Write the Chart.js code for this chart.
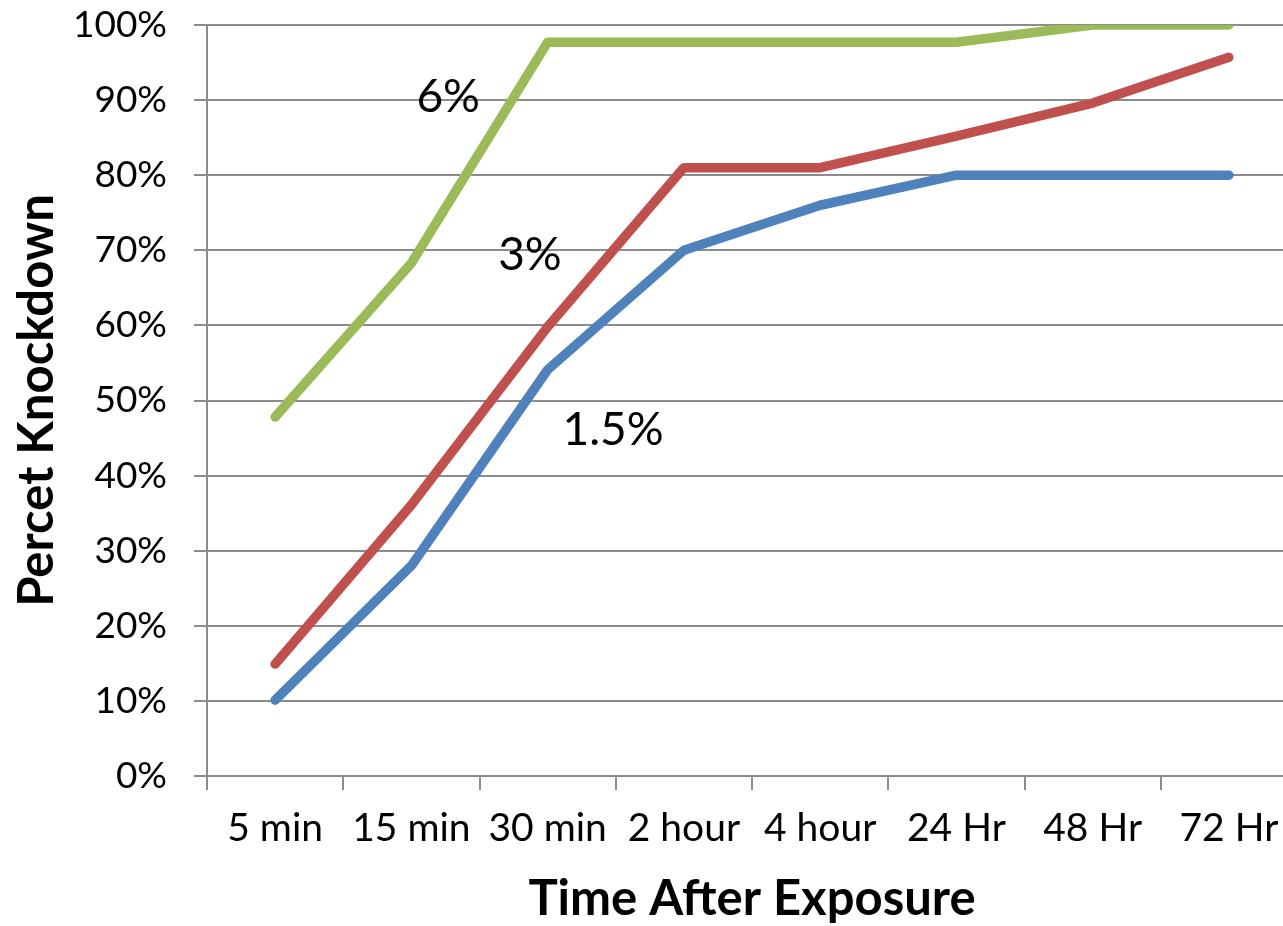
<!DOCTYPE html>
<html>
<head>
<meta charset="utf-8">
<script src="https://cdn.jsdelivr.net/npm/chart.js@4/dist/chart.umd.min.js"></script>
<style>
  html, body { margin: 0; padding: 0; background: #fff; overflow: hidden; }
  #wrap { width: 1283px; height: 926px; overflow: hidden; }
</style>
</head>
<body>
<div id="wrap"><canvas id="chart" width="1297" height="926"></canvas></div>
<script>
// ---- data ----
const timeLabels = ['5 min', '15 min', '30 min', '2 hour', '4 hour', '24 Hr', '48 Hr', '72 Hr'];
const knockdown6 = [47.8, 68.3, 97.7, 97.7, 97.7, 97.7, 100, 100];
const knockdown3 = [14.9, 36.1, 59.8, 81.0, 81.0, 85.2, 89.6, 95.7];
const knockdown15 = [10.1, 28.0, 54.1, 70.0, 76.0, 80.0, 80.0, 80.0];

// series names as written inside the plot, with the (category index, value) spot they sit at
const seriesNames = ['6%', '3%', '1.5%'];
const nameSpots = [[1.27, 90.4], [1.87, 69.4], [2.48, 46.1]];

const FONT = 'Lato, "Open Sans", sans-serif';
const GRID = '#8c8c8c';

// draws the 6% / 3% / 1.5% labels on the chart
const seriesNamePlugin = {
    id: 'seriesNames',
    afterDatasetsDraw(chart) {
        const { ctx, scales } = chart;
        ctx.save();
        ctx.fillStyle = '#000';
        ctx.font = '46px ' + FONT;
        ctx.textAlign = 'center';
        ctx.textBaseline = 'middle';
        seriesNames.forEach((name, i) => {
            const x = scales.x.getPixelForValue(nameSpots[i][0]);
            const y = scales.y.getPixelForValue(nameSpots[i][1]);
            ctx.fillText(name, x, y);
        });
        ctx.restore();
    }
};

function makeLine(label, data, color) {
    return {
        label: label,
        data: data,
        borderColor: color,
        backgroundColor: color,
        borderWidth: 9.5,
        borderCapStyle: 'round',
        borderJoinStyle: 'round',
        pointRadius: 0,
        tension: 0,
        fill: false
    };
}

new Chart(document.getElementById('chart'), {
    type: 'line',
    data: {
        labels: timeLabels,
        datasets: [
            makeLine('1.5%', knockdown15, '#4F81BD'),
            makeLine('3%', knockdown3, '#C0504D'),
            makeLine('6%', knockdown6, '#9BBB59')
        ]
    },
    options: {
        responsive: false,
        animation: false,
        layout: { padding: { top: 25, right: 0, left: 0, bottom: 0 } },
        plugins: {
            legend: { display: false },
            tooltip: { enabled: false }
        },
        scales: {
            x: {
                offset: true,
                grid: {
                    offset: true,
                    drawOnChartArea: false,
                    drawTicks: true,
                    tickLength: 14,
                    color: GRID,
                    lineWidth: 2
                },
                border: { color: GRID, width: 2 },
                ticks: {
                    color: '#000',
                    font: { family: FONT, size: 39 },
                    padding: 15,
                    maxRotation: 0,
                    autoSkip: false
                },
                title: {
                    display: true,
                    text: 'Time After Exposure',
                    color: '#000',
                    font: { family: FONT, size: 49, weight: 'bold', lineHeight: 1.1 },
                    padding: { top: 0, bottom: 0 }
                },
                afterFit(scale) { scale.height = 150; }
            },
            y: {
                min: 0,
                max: 100,
                grid: {
                    color: GRID,
                    lineWidth: 2,
                    tickLength: 13
                },
                border: { color: GRID, width: 2 },
                ticks: {
                    stepSize: 10,
                    color: '#000',
                    font: { family: FONT, size: 37 },
                    padding: 27,
                    callback: v => v + '%'
                },
                title: {
                    display: true,
                    text: 'Percet Knockdown',
                    color: '#000',
                    font: { family: FONT, size: 49, weight: 'bold', lineHeight: 1.1 },
                    padding: { top: 10, bottom: 0 }
                },
                afterFit(scale) {
                    scale.width = 207;
                    scale.paddingTop = 0;
                    scale.paddingBottom = 0;
                }
            }
        }
    },
    plugins: [seriesNamePlugin]
});
</script>
</body>
</html>
